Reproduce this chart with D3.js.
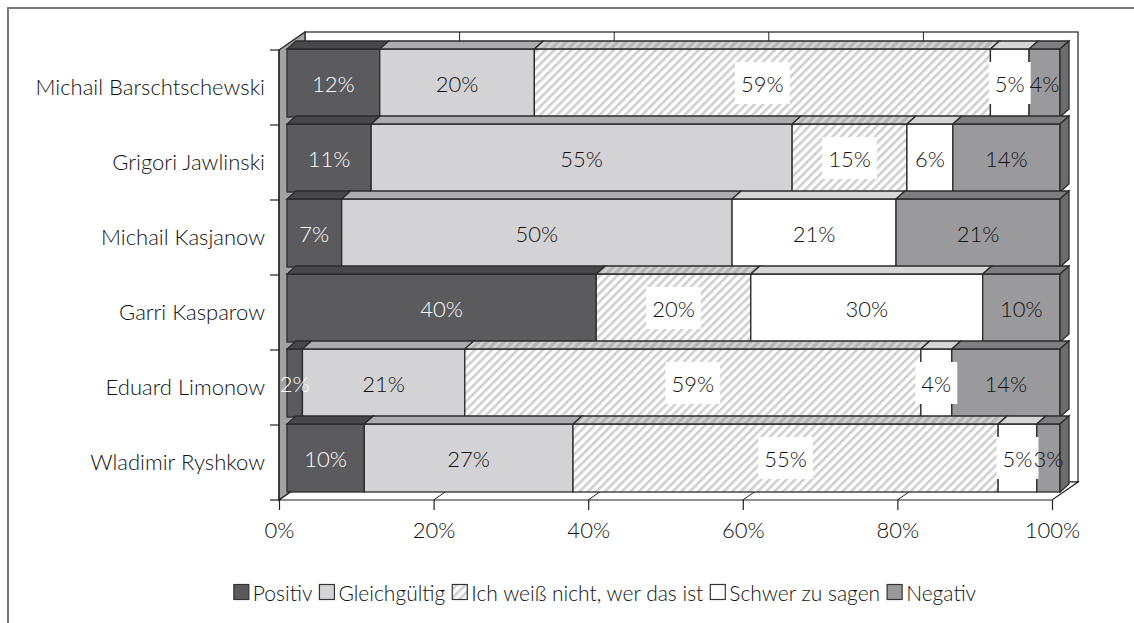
<!DOCTYPE html>
<html>
<head>
<meta charset="utf-8">
<script src="https://cdn.jsdelivr.net/npm/d3@7"></script>
<style>
  body { margin: 0; background: #fff; }
  svg { display: block; font-family: Lato, "DejaVu Sans", sans-serif; font-weight: 300; }
</style>
</head>
<body>
<div id="chart"></div>
<script>
/// DATA

const categories = [
  "Michail Barschtschewski",
  "Grigori Jawlinski",
  "Michail Kasjanow",
  "Garri Kasparow",
  "Eduard Limonow",
  "Wladimir Ryshkow",
]
const seriesNames = [
  "Positiv",
  "Gleichgültig",
  "Ich weiß nicht, wer das ist",
  "Schwer zu sagen",
  "Negativ",
]
const positiv = [12, 11, 7, 40, 2, 10]
const gleichgueltig = [20, 55, 50, 0, 21, 27]
const weissNicht = [59, 15, 0, 20, 59, 55]
const schwer = [5, 6, 21, 30, 4, 5]
const negativ = [4, 14, 21, 10, 14, 3]
const xTicks = [0, 20, 40, 60, 80, 100]

const width = 1134
const height = 623

// front plane of the plot, and depth of the 3D box
const plot = { left: 279, right: 1052, top: 50, bottom: 500 }
const wall = { dx: 26, dy: -18 }
const bar = { ox: 8, oy: -8, dx: 9, dy: -8, h: 68 }

const valuesBySeries = [positiv, gleichgueltig, weissNicht, schwer, negativ]

const textColor = "#111"
const fills = ["#5b5b5d", "#d3d3d5", "url(#hatch)", "#ffffff", "#9a9a9c"]
const topFills = ["#48484a", "#acacae", "url(#hatchTop)", "#d6d6d6", "#7e7e80"]
const sideFills = ["#3c3c3e", "#9a9a9c", "#a8a8a8", "#c4c4c4", "#6c6c6e"]
const labelColors = ["#ffffff", textColor, textColor, textColor, textColor]

/// SCALES

const xScale = d3.scaleLinear().domain([0, 1]).range([plot.left, plot.right])
const yScale = d3.scaleBand().domain(categories).range([plot.top, plot.bottom])

const svg = d3
  .select("#chart")
  .append("svg")
  .attr("width", width)
  .attr("height", height)
  .attr("viewBox", [0, 0, width, height])

const defs = svg.append("defs")

const hatch = defs
  .append("pattern")
  .attr("id", "hatch")
  .attr("patternUnits", "userSpaceOnUse")
  .attr("width", 6)
  .attr("height", 6)
  .attr("patternTransform", "rotate(45)")
hatch.append("rect").attr("width", 6).attr("height", 6).attr("fill", "#ffffff")
hatch.append("rect").attr("width", 2.6).attr("height", 6).attr("fill", "#cfcfcf")

const hatchTop = defs
  .append("pattern")
  .attr("id", "hatchTop")
  .attr("patternUnits", "userSpaceOnUse")
  .attr("width", 6)
  .attr("height", 6)
  .attr("patternTransform", "rotate(45)")
hatchTop.append("rect").attr("width", 6).attr("height", 6).attr("fill", "#b4b4b4")
hatchTop.append("rect").attr("width", 2.6).attr("height", 6).attr("fill", "#d4d4d4")

// outer frame (top and left only)
svg
  .append("path")
  .attr("d", `M8,${height} L8,8 L${width},8`)
  .attr("fill", "none")
  .attr("stroke", "#7a7a7a")
  .attr("stroke-width", 2)

/// WALLS

const walls = svg.append("g")

// back wall
walls
  .append("rect")
  .attr("x", plot.left + wall.dx)
  .attr("y", plot.top + wall.dy)
  .attr("width", plot.right - plot.left)
  .attr("height", plot.bottom - plot.top)
  .attr("fill", "#fff")
  .attr("stroke", "#222")
  .attr("stroke-width", 1.2)

// back wall gridlines
walls
  .selectAll(".grid")
  .data(xTicks.slice(1, -1))
  .join("line")
  .attr("x1", (d) => xScale(d / 100) + wall.dx)
  .attr("x2", (d) => xScale(d / 100) + wall.dx)
  .attr("y1", plot.top + wall.dy)
  .attr("y2", plot.bottom + wall.dy)
  .attr("stroke", "#222")
  .attr("stroke-width", 1)

// left wall
walls
  .append("path")
  .attr(
    "d",
    `M${plot.left},${plot.top} L${plot.left + wall.dx},${plot.top + wall.dy}
     L${plot.left + wall.dx},${plot.bottom + wall.dy} L${plot.left},${plot.bottom} Z`
  )
  .attr("fill", "#a2a2a4")
  .attr("stroke", "#222")
  .attr("stroke-width", 1.2)

// floor
walls
  .append("path")
  .attr(
    "d",
    `M${plot.left},${plot.bottom} L${plot.right},${plot.bottom}
     L${plot.right + wall.dx},${plot.bottom + wall.dy} L${plot.left + wall.dx},${plot.bottom + wall.dy} Z`
  )
  .attr("fill", "#fff")
  .attr("stroke", "#222")
  .attr("stroke-width", 1.2)

walls
  .selectAll(".floorgrid")
  .data(xTicks.slice(1, -1))
  .join("line")
  .attr("x1", (d) => xScale(d / 100))
  .attr("x2", (d) => xScale(d / 100) + wall.dx)
  .attr("y1", plot.bottom)
  .attr("y2", plot.bottom + wall.dy)
  .attr("stroke", "#222")
  .attr("stroke-width", 1)

/// BARS

const rows = categories.map((c, i) => {
  const vals = valuesBySeries.map((s) => s[i])
  const total = d3.sum(vals)
  let acc = 0
  const segs = vals.map((v, k) => {
    const seg = { cat: c, k, v, x0: acc / total, x1: (acc + v) / total }
    acc += v
    return seg
  })
  return { cat: c, segs: segs.filter((s) => s.v > 0) }
})

const bars = svg.append("g")

rows.forEach((row) => {
  const g = bars.append("g")
  const yTop = yScale(row.cat) + 7 + bar.oy
  const xb = (f) => xScale(f) + bar.ox

  // front faces
  g.selectAll(".front")
    .data(row.segs)
    .join("rect")
    .attr("x", (d) => xb(d.x0))
    .attr("y", yTop)
    .attr("width", (d) => xb(d.x1) - xb(d.x0))
    .attr("height", bar.h)
    .attr("fill", (d) => fills[d.k])
    .attr("stroke", "#2b2b2b")
    .attr("stroke-width", 1.3)

  // top faces
  g.selectAll(".top")
    .data(row.segs)
    .join("path")
    .attr(
      "d",
      (d) =>
        `M${xb(d.x0)},${yTop} L${xb(d.x1)},${yTop} L${xb(d.x1) + bar.dx},${yTop + bar.dy} L${xb(d.x0) + bar.dx},${yTop + bar.dy} Z`
    )
    .attr("fill", (d) => topFills[d.k])
    .attr("stroke", "#2b2b2b")
    .attr("stroke-width", 1.3)

  // right face of the last segment
  const last = row.segs[row.segs.length - 1]
  g.append("path")
    .attr(
      "d",
      `M${xb(last.x1)},${yTop} L${xb(last.x1) + bar.dx},${yTop + bar.dy}
       L${xb(last.x1) + bar.dx},${yTop + bar.dy + bar.h} L${xb(last.x1)},${yTop + bar.h} Z`
    )
    .attr("fill", sideFills[last.k])
    .attr("stroke", "#2b2b2b")
    .attr("stroke-width", 1.3)
})

/// DATA LABELS

const labels = svg.append("g").style("font-size", "22px")

rows.forEach((row) => {
  const yMid = yScale(row.cat) + 7 + bar.oy + bar.h / 2
  row.segs.forEach((d) => {
    const cx = (xScale(d.x0) + xScale(d.x1)) / 2 + bar.ox
    const lg = labels.append("g")
    const t = lg
      .append("text")
      .attr("x", cx)
      .attr("y", yMid)
      .attr("text-anchor", "middle")
      .attr("dominant-baseline", "central")
      .attr("fill", labelColors[d.k])
      .text(d.v + "%")
    if (d.k === 2 || d.k === 3) {
      const w = t.node().getComputedTextLength()
      lg.insert("rect", "text")
        .attr("x", cx - w / 2 - 6)
        .attr("y", yMid - 21)
        .attr("width", w + 12)
        .attr("height", 42)
        .attr("fill", "#fff")
    }
  })
})

/// AXES

const xAxisGenerator = d3
  .axisBottom(xScale)
  .tickValues(xTicks.map((d) => d / 100))
  .tickFormat((d) => Math.round(d * 100) + "%")
  .tickSizeInner(10)
  .tickSizeOuter(0)
  .tickPadding(12)

const xAxis = svg
  .append("g")
  .attr("transform", `translate(0,${plot.bottom})`)
  .call(xAxisGenerator)
xAxis.select(".domain").remove()
xAxis.selectAll("line").attr("stroke", "#222").attr("stroke-width", 1.2)
xAxis
  .selectAll("text")
  .style("font-family", "Lato, sans-serif")
  .style("font-weight", 300)
  .style("font-size", "22px")
  .attr("fill", textColor)

const yAxisGenerator = d3.axisLeft(yScale).tickSize(0).tickPadding(14)

const yAxis = svg
  .append("g")
  .attr("transform", `translate(${plot.left},0)`)
  .call(yAxisGenerator)
yAxis.select(".domain").remove()
yAxis
  .selectAll("text")
  .style("font-family", "Lato, sans-serif")
  .style("font-weight", 300)
  .style("font-size", "22px")
  .attr("fill", textColor)

// ticks on the band boundaries
const bounds = categories.map((c) => yScale(c)).concat([plot.bottom])
svg
  .append("g")
  .selectAll("line")
  .data(bounds)
  .join("line")
  .attr("x1", plot.left - 9)
  .attr("x2", plot.left)
  .attr("y1", (d) => d)
  .attr("y2", (d) => d)
  .attr("stroke", "#222")
  .attr("stroke-width", 1.2)

svg
  .append("line")
  .attr("x1", plot.left)
  .attr("x2", plot.left)
  .attr("y1", plot.top)
  .attr("y2", plot.bottom)
  .attr("stroke", "#222")
  .attr("stroke-width", 1.2)

/// LEGEND

const legend = svg.append("g").style("font-size", "21px")
const legendY = 592
const box = 15
let lx = 0
seriesNames.forEach((name, k) => {
  const item = legend.append("g")
  item
    .append("rect")
    .attr("x", lx)
    .attr("y", legendY - box / 2)
    .attr("width", box)
    .attr("height", box)
    .attr("fill", fills[k])
    .attr("stroke", "#333")
    .attr("stroke-width", 1.2)
  const t = item
    .append("text")
    .attr("x", lx + box + 4)
    .attr("y", legendY)
    .attr("dominant-baseline", "central")
    .attr("fill", textColor)
    .text(name)
  lx += box + 4 + t.node().getComputedTextLength() + 7
})
const legendWidth = lx - 7
legend.attr("transform", `translate(${605 - legendWidth / 2},0)`)
</script>
</body>
</html>
